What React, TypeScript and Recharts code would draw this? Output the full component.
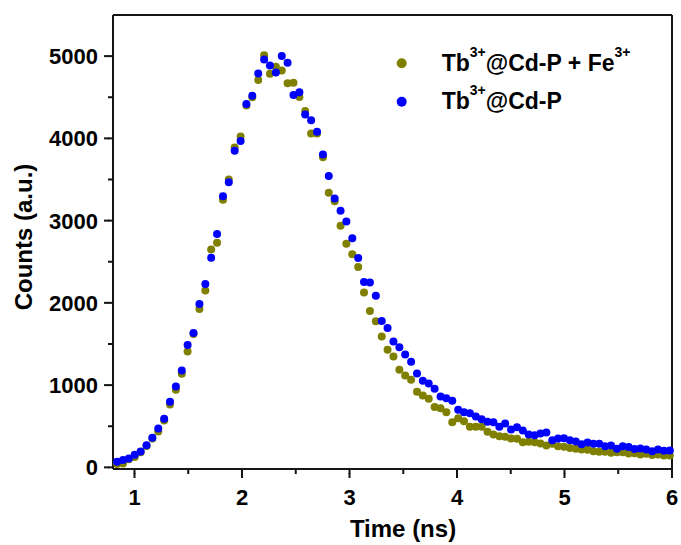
import {
  ScatterChart,
  Scatter,
  XAxis,
  YAxis,
  Legend,
  ReferenceLine
} from "recharts"

// time channels (ns)
const times = [
  0.838, 0.893, 0.947, 1.002, 1.057, 1.112, 1.166, 1.221, 1.276, 1.330,
  1.385, 1.440, 1.494, 1.549, 1.604, 1.659, 1.713, 1.768, 1.823, 1.877,
  1.932, 1.987, 2.041, 2.096, 2.151, 2.206, 2.260, 2.315, 2.370, 2.424,
  2.479, 2.534, 2.588, 2.643, 2.698, 2.753, 2.807, 2.862, 2.917, 2.971,
  3.026, 3.081, 3.135, 3.190, 3.245, 3.300, 3.354, 3.409, 3.464, 3.518,
  3.573, 3.628, 3.682, 3.737, 3.792, 3.847, 3.901, 3.956, 4.011, 4.065,
  4.120, 4.175, 4.229, 4.284, 4.339, 4.394, 4.448, 4.503, 4.558, 4.612,
  4.667, 4.722, 4.776, 4.831, 4.886, 4.940, 4.995, 5.050, 5.105, 5.159,
  5.214, 5.269, 5.323, 5.378, 5.433, 5.488, 5.542, 5.597, 5.652, 5.706,
  5.761, 5.816, 5.870, 5.925, 5.980
]

// Tb3+@Cd-P + Fe3+
const feCounts = [
  40, 48, 100, 125, 185, 260, 350, 436, 570, 763,
  944, 1138, 1408, 1620, 1925, 2151, 2648, 2730, 3253, 3499,
  3890, 4023, 4400, 4500, 4709, 5012, 4786, 4870, 4826, 4669,
  4677, 4504, 4334, 4059, 4060, 3769, 3338, 3236, 2938, 2720,
  2591, 2437, 2127, 1901, 1776, 1590, 1429, 1347, 1186, 1117,
  1065, 920, 875, 835, 735, 718, 669, 548, 597, 561,
  493, 493, 493, 432, 400, 379, 372, 351, 347, 306,
  311, 306, 291, 266, 287, 258, 250, 234, 226, 218,
  214, 197, 190, 190, 178, 185, 185, 169, 173, 157,
  166, 149, 157, 145, 145
]

// Tb3+@Cd-P
const cdpCounts = [
  69, 88, 109, 154, 194, 270, 360, 472, 590, 799,
  984, 1178, 1489, 1634, 1985, 2228, 2550, 2837, 3297, 3466,
  3850, 3967, 4419, 4519, 4790, 4960, 4887, 4802, 5000, 4919,
  4528, 4560, 4289, 4221, 4080, 3805, 3543, 3269, 3120, 2990,
  2787, 2546, 2255, 2248, 2086, 1780, 1695, 1529, 1461, 1372,
  1283, 1142, 1053, 1021, 956, 863, 839, 811, 699, 669,
  657, 617, 585, 553, 548, 493, 533, 460, 488, 448,
  400, 391, 412, 424, 331, 351, 355, 331, 315, 282,
  303, 287, 287, 258, 266, 226, 258, 246, 222, 230,
  218, 197, 218, 202, 206
]

const xTicks = [1, 1.5, 2, 2.5, 3, 3.5, 4, 4.5, 5, 5.5, 6]
const yTicks = [0, 500, 1000, 1500, 2000, 2500, 3000, 3500, 4000, 4500, 5000]

const X_MIN = 0.8
const X_MAX = 6
const Y_MIN = -20
const Y_MAX = 5500

const OLIVE = "#808000"
const BLUE = "#0000ff"
const INK = "#151515"
const FONT = "Arial, 'Liberation Sans', sans-serif"

const feData = times.map((t, i) => ({ t, c: feCounts[i] }))
const cdpData = times.map((t, i) => ({ t, c: cdpCounts[i] }))

// built-in tick lines are 5px; majors get a 4px extension and a label
function XTick(props:any){
  const { x, y, payload } = props
  const major = Number.isInteger(payload.value)
  if (!major) return <g />
  return (
    <g>
      <rect x={x - 1} y={y - 1} width={2} height={5} fill={INK} />
      <text x={x} y={y + 31} textAnchor="middle" fontSize={22} fontWeight="bold" fontFamily={FONT} fill="#000">
        {payload.value}
      </text>
    </g>
  )
}

function YTick(props:any){
  const { x, y, payload } = props
  const major = payload.value % 1000 === 0
  if (!major) return <g />
  return (
    <g>
      <rect x={x - 4} y={y - 1} width={5} height={2} fill={INK} />
      <text x={x - 10} y={y + 8} textAnchor="end" fontSize={22} fontWeight="bold" fontFamily={FONT} fill="#000">
        {payload.value}
      </text>
    </g>
  )
}

function dot(color:string){
  return (p:any) => <circle cx={p.cx} cy={p.cy} r={4} fill={color} />
}

function LegendBox(){
  const rows = [
    { color: OLIVE, tail: "@Cd-P + Fe", sup2: true },
    { color: BLUE, tail: "@Cd-P", sup2: false }
  ]
  return (
    <svg width={260} height={80}>
      {rows.map((r, i) => (
        <g key={i}>
          <circle cx={11.7} cy={23.3 + i * 38.4} r={5} fill={r.color} />
          <text x={51.7} y={30.5 + i * 38} fontSize={23} fontWeight="bold" fontFamily={FONT} fill="#000">
            Tb
            <tspan fontSize={14} dy={-14}>3+</tspan>
            <tspan dy={14}>{r.tail}</tspan>
            {r.sup2 && <tspan fontSize={14} dy={-14}>3+</tspan>}
          </text>
        </g>
      ))}
    </svg>
  )
}

export default function App(){
  return (
    <div>
      <style>{"body{margin:0}"}</style>
      <ScatterChart width={681} height={545} margin={{ top: 15, right: 9, left: 0, bottom: 0 }}>
        <XAxis
          type="number"
          dataKey="t"
          domain={[X_MIN, X_MAX]}
          ticks={xTicks}
          interval={0}
          height={76}
          tickSize={5}
          tickMargin={0}
          tickLine={{ stroke: INK, strokeWidth: 2 }}
          axisLine={{ stroke: INK, strokeWidth: 2 }}
          tick={<XTick />}
          label={() => (
            <text x={403} y={537} textAnchor="middle" fontSize={24} fontWeight="bold" fontFamily={FONT} fill="#000">
              Time (ns)
            </text>
          )}
        />
        <YAxis
          type="number"
          dataKey="c"
          domain={[Y_MIN, Y_MAX]}
          ticks={yTicks}
          interval={0}
          width={113}
          tickSize={5}
          tickMargin={0}
          tickLine={{ stroke: INK, strokeWidth: 2 }}
          axisLine={{ stroke: INK, strokeWidth: 2 }}
          tick={<YTick />}
          label={() => (
            <text x={32} y={237} transform="rotate(-90 32 237)" textAnchor="middle" fontSize={24} fontWeight="bold" fontFamily={FONT} fill="#000">
              Counts (a.u.)
            </text>
          )}
        />
        {/* frame: top and right edges */}
        <ReferenceLine y={Y_MAX} stroke={INK} strokeWidth={2} ifOverflow="visible" />
        <ReferenceLine x={X_MAX} stroke={INK} strokeWidth={2} ifOverflow="visible" />
        <Legend
          layout="vertical"
          align="center"
          verticalAlign="middle"
          wrapperStyle={{ left: 390, top: 40, width: 260 }}
          content={() => <LegendBox />}
        />
        <Scatter
          name="Tb3+@Cd-P + Fe3+"
          data={feData}
          shape={dot(OLIVE)}
          isAnimationActive={false}
        />
        <Scatter
          name="Tb3+@Cd-P"
          data={cdpData}
          shape={dot(BLUE)}
          isAnimationActive={false}
        />
      </ScatterChart>
    </div>
  )
}
